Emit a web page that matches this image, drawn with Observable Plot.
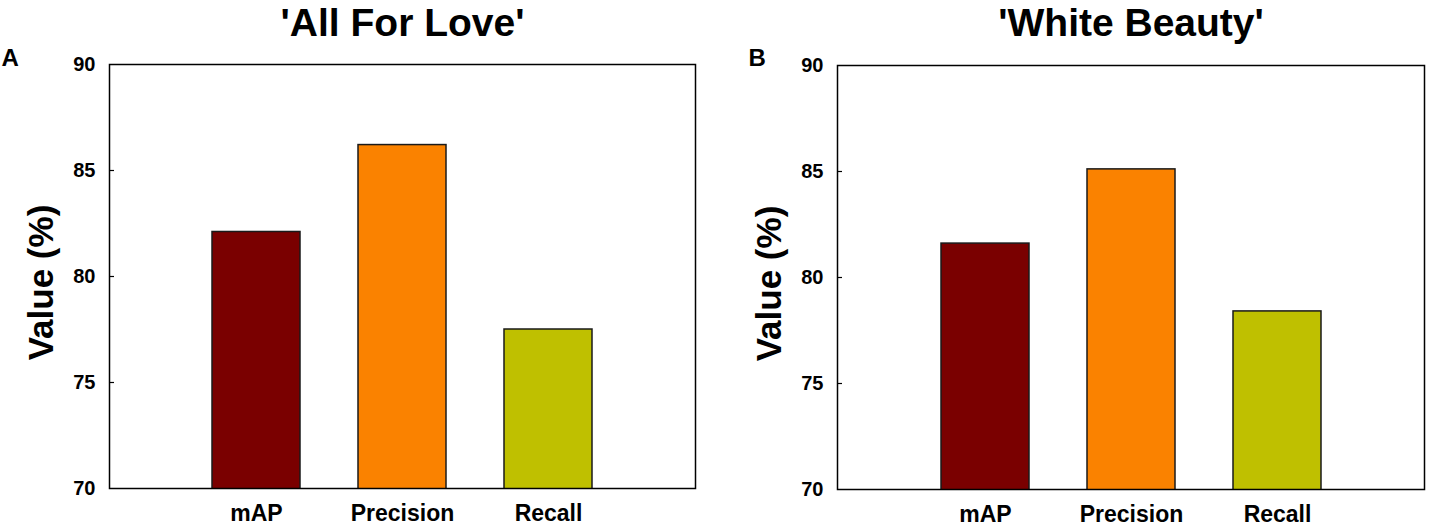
<!DOCTYPE html>
<html>
<head>
<meta charset="utf-8">
<script src="https://cdn.jsdelivr.net/npm/d3@7"></script>
<script src="https://cdn.jsdelivr.net/npm/@observablehq/plot@0.6"></script>
<style>
  html, body { margin: 0; padding: 0; background: #fff; }
  #wrap { position: relative; width: 1433px; height: 526px; overflow: hidden; background: #fff; }
  .panel { position: absolute; top: 0; }
</style>
</head>
<body>
<div id="wrap">
  <div class="panel" id="pa" style="left:0px"></div>
  <div class="panel" id="pb" style="left:728px"></div>
</div>
<script>
// ---- data ----
const metrics = ["mAP", "Precision", "Recall"];
const colors = ["#7a0000", "#fa8200", "#bfc000"];
const valuesA = [82.1, 86.2, 77.5];
const valuesB = [81.6, 85.1, 78.4];
const titleA = "'All For Love'";
const titleB = "'White Beauty'";
const letterA = "A";
const letterB = "B";
const yTicks = [70, 75, 80, 85, 90];
const yDomain = [70, 90];
const yLabel = "Value (%)";

const FONT = "'Liberation Sans', Arial, Helvetica, sans-serif";

function panel({values, title, letter, width, marginTop, marginBottom, marginRight, letterDx}) {
  const data = metrics.map((m, i) => ({metric: m, value: values[i]}));
  const marginLeft = 109;
  const frameWidth = width - marginLeft - marginRight;
  return Plot.plot({
    width,
    height: 526,
    marginTop,
    marginBottom,
    marginLeft,
    marginRight,
    style: {fontFamily: FONT, color: "#000", background: "transparent", overflow: "visible"},
    x: {domain: metrics, paddingInner: 0.4, paddingOuter: 0.7, label: null},
    y: {domain: yDomain, label: null},
    color: {domain: metrics, range: colors},
    marks: [
      Plot.barY(data, {x: "metric", y: "value", fill: "metric", stroke: "#1a1a1a", strokeWidth: 1.5, clip: true}),
      Plot.ruleY(yTicks.slice(1, -1), {insetRight: frameWidth - 5, stroke: "#000", strokeWidth: 1.2}),
      Plot.frame({stroke: "#000", strokeWidth: 1.5}),
      Plot.axisY(yTicks, {tickSize: 0, tickPadding: 14, fontSize: 20, fontWeight: "bold", label: null}),
      Plot.axisX({tickSize: 0, tickPadding: 16, fontSize: 23, fontWeight: "bold", label: null}),
      Plot.text([yLabel], {frameAnchor: "left", textAnchor: "middle", rotate: -90, dx: -68, dy: 6, fontSize: 35, fontWeight: "bold", lineAnchor: "middle"}),
      Plot.text([title], {frameAnchor: "top", textAnchor: "middle", lineAnchor: "bottom", dy: 35 - marginTop, fontSize: 39, fontWeight: "bold"}),
      Plot.text([letter], {frameAnchor: "top-left", textAnchor: "start", lineAnchor: "bottom", dx: letterDx, dy: 65 - marginTop, fontSize: 24, fontWeight: "bold"})
    ]
  });
}

document.getElementById("pa").appendChild(panel({
  values: valuesA, title: titleA, letter: letterA,
  width: 728, marginTop: 64, marginBottom: 38, marginRight: 33, letterDx: -108
}));
document.getElementById("pb").appendChild(panel({
  values: valuesB, title: titleB, letter: letterB,
  width: 705, marginTop: 65, marginBottom: 37, marginRight: 9, letterDx: -89
}));
</script>
</body>
</html>
